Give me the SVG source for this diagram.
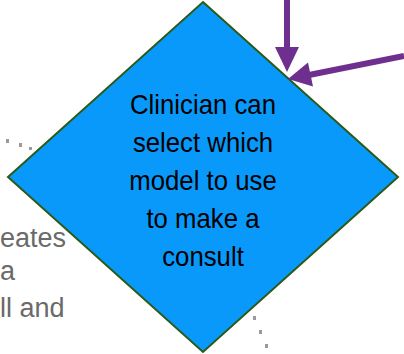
<svg xmlns="http://www.w3.org/2000/svg" width="404" height="354" viewBox="0 0 404 354">
<style>
.bg{font-family:"Liberation Sans",Arial,sans-serif;font-size:27px;fill:#6a6a6a}
.lbl{font-family:"Liberation Sans",Arial,sans-serif;font-size:28px;fill:#000;text-anchor:middle}
.dot{fill:#9a9a9a}
.arrow{stroke:#6f2f8f;stroke-width:6;fill:none}
.head{fill:#6f2f8f}
</style>
<rect width="404" height="354" fill="#fff"/>
<g id="background-text">
<text class="bg" x="0" y="247">eates</text>
<text class="bg" x="0" y="280">a</text>
<text class="bg" x="0" y="317">ll and</text>
<rect class="dot" x="6" y="139" width="3" height="4"/>
<rect class="dot" x="19" y="143" width="3" height="4"/>
<rect class="dot" x="29" y="147" width="3" height="3"/>
<rect class="dot" x="253" y="316" width="3" height="4"/>
<rect class="dot" x="259" y="330" width="3" height="4"/>
<rect class="dot" x="265" y="344" width="3" height="4"/>
</g>
<g id="decision">
<polygon points="203,2 398,177 203,352 8,177" fill="#0999fb" stroke="#2b5a17" stroke-width="2"/>
<g transform="translate(203,0) scale(0.92,1)">
<text class="lbl" x="0" y="114">Clinician can</text>
<text class="lbl" x="0" y="152">select which</text>
<text class="lbl" x="0" y="190">model to use</text>
<text class="lbl" x="0" y="228">to make a</text>
<text class="lbl" x="0" y="266">consult</text>
</g>
</g>
<g id="connectors">
<line class="arrow" x1="287" y1="0" x2="287" y2="49"/>
<polygon class="head" points="275,47 299,47 287,72"/>
<line class="arrow" x1="404" y1="56" x2="309" y2="75"/>
<polygon class="head" points="308,62.5 313,86.5 288,79"/>
</g>
</svg>
